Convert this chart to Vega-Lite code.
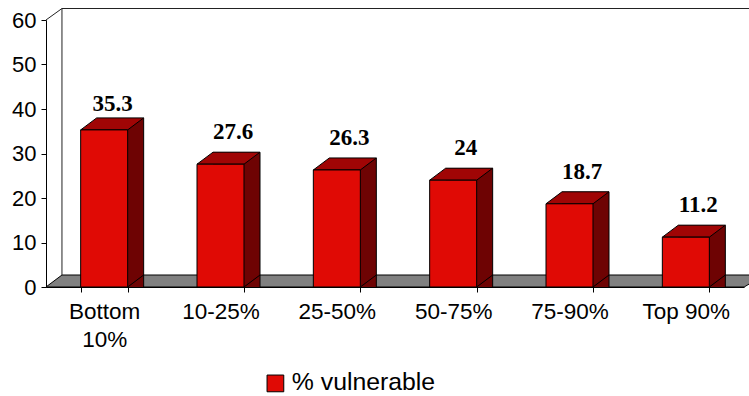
{
  "$schema": "https://vega.github.io/schema/vega-lite/v6.json",
  "width": 698,
  "height": 267,
  "autosize": "none",
  "padding": {"left": 46, "top": 20, "right": 5, "bottom": 109},
  "background": "white",
  "view": {"stroke": null},
  "config": {"font": "Liberation Sans"},
  "data": {
    "values": [
      {"group": "Bottom 10%", "value": 35.3, "series": "% vulnerable"},
      {"group": "10-25%", "value": 27.6, "series": "% vulnerable"},
      {"group": "25-50%", "value": 26.3, "series": "% vulnerable"},
      {"group": "50-75%", "value": 24, "series": "% vulnerable"},
      {"group": "75-90%", "value": 18.7, "series": "% vulnerable"},
      {"group": "Top 90%", "value": 11.2, "series": "% vulnerable"}
    ]
  },
  "encoding": {
    "x": {
      "field": "group",
      "type": "nominal",
      "sort": null,
      "title": null,
      "scale": {
        "domain": ["Bottom 10%", "10-25%", "25-50%", "50-75%", "75-90%", "Top 90%"],
        "paddingInner": 0.596,
        "paddingOuter": 0.298
      },
      "axis": {
        "tickBand": "extent",
        "labelAngle": 0,
        "labelFontSize": 22.5,
        "labelColor": "black",
        "labelLineHeight": 28,
        "labelPadding": 8,
        "tickColor": "black",
        "tickSize": 5,
        "domainColor": "black",
        "grid": false,
        "labelExpr": "datum.label == 'Bottom 10%' ? ['Bottom', '10%'] : datum.label"
      }
    },
    "y": {
      "field": "value",
      "type": "quantitative",
      "title": null,
      "scale": {"domain": [0, 60], "nice": false},
      "axis": {
        "values": [0, 10, 20, 30, 40, 50, 60],
        "labelFontSize": 22,
        "labelColor": "black",
        "labelPadding": 5,
        "tickColor": "black",
        "tickSize": 5,
        "domainColor": "black",
        "grid": false
      }
    }
  },
  "layer": [
    {
      "description": "Chart floor, anchored on the first category at zero",
      "transform": [{"filter": "datum.group == 'Bottom 10%'"}],
      "mark": {
        "type": "point",
        "shape": "M-58.2,0L-42.2,-12L660,-12L640,0Z",
        "size": 4,
        "filled": true,
        "fill": "#808080",
        "stroke": "black",
        "strokeWidth": 1,
        "opacity": 1
      },
      "encoding": {"y": {"datum": 0}}
    },
    {
      "description": "Back wall outline, anchored on the first category at the axis top",
      "transform": [{"filter": "datum.group == 'Bottom 10%'"}],
      "mark": {
        "type": "point",
        "shape": "M-58.2,0L-42.2,-11.5L650,-11.5M-42.2,-11.5L-42.2,255",
        "size": 4,
        "filled": false,
        "stroke": "#222222",
        "strokeWidth": 1,
        "opacity": 1
      },
      "encoding": {"y": {"datum": 60}}
    },
    {
      "description": "Shaded side of each column",
      "mark": {"type": "bar", "fill": "#6E0303", "xOffset": 16, "yOffset": -12},
      "encoding": {"y2": {"datum": 0}}
    },
    {
      "description": "Lower corner of the shaded side",
      "mark": {
        "type": "point",
        "shape": "M23.5,0L39.5,-12L23.5,-12Z",
        "size": 4,
        "filled": true,
        "fill": "#6E0303",
        "stroke": null,
        "opacity": 1
      },
      "encoding": {"y": {"datum": 0}}
    },
    {
      "description": "Lower diagonal edge of the side",
      "mark": {
        "type": "point",
        "shape": "M23.5,0L39.5,-12",
        "size": 4,
        "filled": false,
        "stroke": "black",
        "strokeWidth": 1,
        "opacity": 1
      },
      "encoding": {"y": {"datum": 0}}
    },
    {
      "description": "Rear vertical edge of the side",
      "mark": {"type": "rule", "stroke": "black", "strokeWidth": 1, "xOffset": 39.5, "yOffset": -12},
      "encoding": {"y2": {"datum": 0}}
    },
    {
      "description": "Top face of each column",
      "mark": {
        "type": "point",
        "shape": "M-23.5,0L-7.5,-12L39.5,-12L23.5,0Z",
        "size": 4,
        "filled": true,
        "fill": "#A00505",
        "stroke": "black",
        "strokeWidth": 1,
        "opacity": 1
      }
    },
    {
      "description": "Front face of each column, with the legend",
      "mark": {"type": "bar", "stroke": "black", "strokeWidth": 1},
      "encoding": {
        "y2": {"datum": 0},
        "color": {
          "field": "series",
          "type": "nominal",
          "scale": {"range": ["#E00A05"]},
          "legend": {
            "title": null,
            "orient": "none",
            "legendX": 217,
            "legendY": 351,
            "symbolType": "square",
            "symbolSize": 280,
            "symbolStrokeColor": "black",
            "symbolStrokeWidth": 1,
            "labelFontSize": 24.8,
            "labelColor": "black",
            "labelOffset": 4
          }
        }
      }
    },
    {
      "description": "Value label of the tallest column",
      "transform": [{"filter": "datum.value > 30"}],
      "mark": {
        "type": "text",
        "font": "Liberation Serif",
        "fontWeight": "bold",
        "fontSize": 23,
        "dx": 8.5,
        "dy": -18.5,
        "baseline": "alphabetic",
        "color": "black"
      },
      "encoding": {"text": {"field": "value", "type": "quantitative"}}
    },
    {
      "description": "Value labels of the other columns",
      "transform": [{"filter": "datum.value <= 30"}],
      "mark": {
        "type": "text",
        "font": "Liberation Serif",
        "fontWeight": "bold",
        "fontSize": 23,
        "dx": 12.5,
        "dy": -25,
        "baseline": "alphabetic",
        "color": "black"
      },
      "encoding": {"text": {"field": "value", "type": "quantitative"}}
    }
  ]
}
